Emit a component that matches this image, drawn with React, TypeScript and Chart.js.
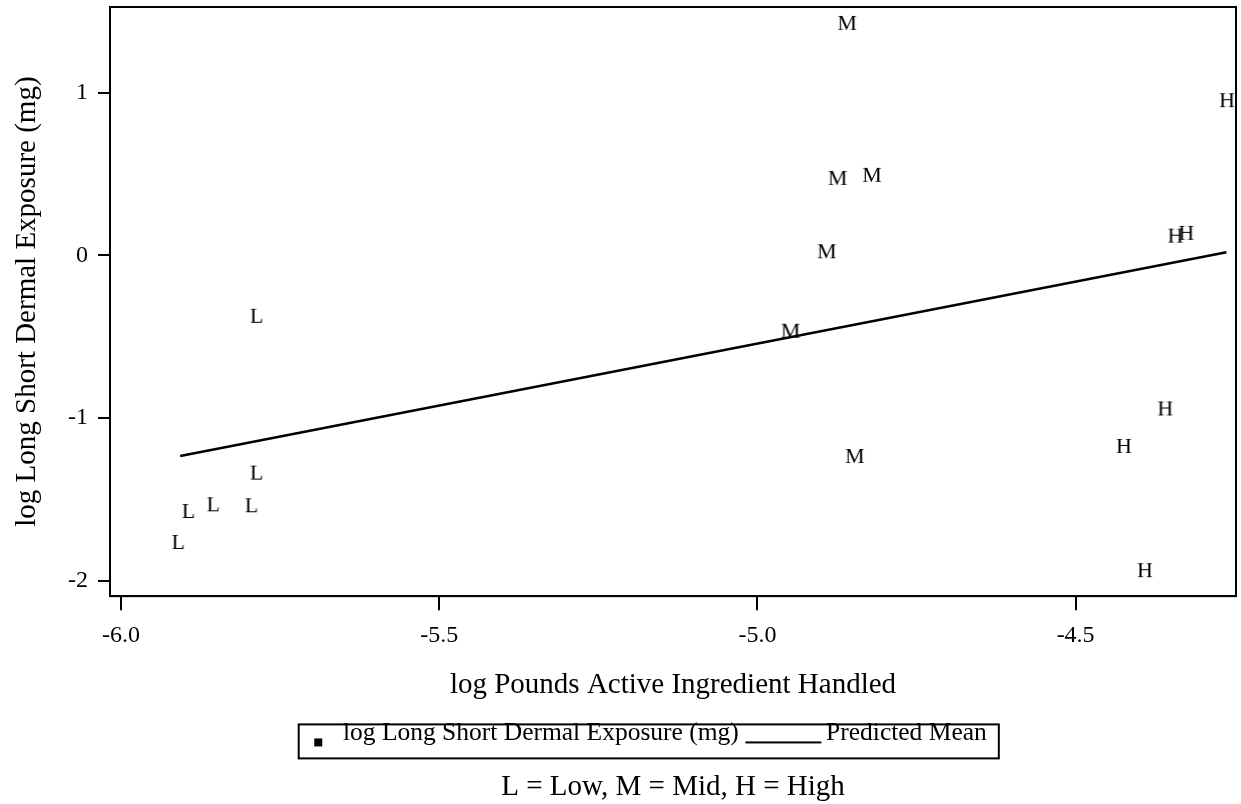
import React, { useEffect, useRef } from 'react';
import { Chart, registerables } from 'chart.js';

Chart.register(...registerables);

const SERIF = '"Liberation Serif", "Times New Roman", Times, serif';

// Data
const lowX = [-5.910, -5.894, -5.855, -5.795, -5.787, -5.787];
const lowY = [-1.762, -1.571, -1.530, -1.536, -1.335, -0.371];
const midX = [-4.859, -4.874, -4.820, -4.891, -4.948, -4.847];
const midY = [1.430, 0.477, 0.496, 0.026, -0.463, -1.233];
const highX = [-4.262, -4.343, -4.326, -4.359, -4.424, -4.391];
const highY = [0.955, 0.122, 0.139, -0.941, -1.171, -1.935];
const fitX = [-5.907, -4.263];
const fitY = [-1.233, 0.020];

const xTicks = [-6.0, -5.5, -5.0, -4.5];
const yTicks = [-2, -1, 0, 1];
const xRange = [-6.0173, -4.248];
const yRange = [-2.095, 1.528];

const xTitle = 'log Pounds Active Ingredient Handled';
const yTitle = 'log Long Short Dermal Exposure (mg)';
const legendLabels = ['log Long Short Dermal Exposure (mg)', 'Predicted Mean'];
const footnote = 'L = Low, M = Mid, H = High';
const groupLetters = ['L', 'M', 'H'];

function letterImage(ch: string): HTMLCanvasElement {
  const c = document.createElement('canvas');
  c.width = 32;
  c.height = 32;
  const ctx = c.getContext('2d')!;
  ctx.font = `22px ${SERIF}`;
  ctx.fillStyle = '#000';
  ctx.textAlign = 'center';
  ctx.textBaseline = 'alphabetic';
  ctx.fillText(ch, 16, 16 + 0.331 * 22);
  return c;
}

function squareImage(): HTMLCanvasElement {
  const c = document.createElement('canvas');
  c.width = 100;
  c.height = 36;
  const ctx = c.getContext('2d')!;
  ctx.fillStyle = '#000';
  // image centre (50,18) sits at the legend text middle
  ctx.fillRect(64, 23, 8, 8);
  return c;
}

function lineImage(): HTMLCanvasElement {
  const c = document.createElement('canvas');
  c.width = 100;
  c.height = 36;
  const ctx = c.getContext('2d')!;
  ctx.fillStyle = '#000';
  ctx.fillRect(12, 26, 76, 2);
  return c;
}

const framePlugin = {
  id: 'frameAndLegendBox',
  afterDraw(chart: any) {
    const ctx = chart.ctx;
    const a = chart.chartArea;
    ctx.save();
    ctx.strokeStyle = '#000';
    ctx.lineWidth = 2;
    ctx.strokeRect(a.left, a.top, a.right - a.left, a.bottom - a.top);
    const hb = chart.legend && chart.legend.legendHitBoxes;
    if (hb && hb.length === 2) {
      const mid = hb[0].top + hb[0].height / 2;
      const left = hb[0].left + 44 - 15.5;
      const right = hb[1].left + hb[1].width + 12;
      ctx.strokeRect(left, mid - 9, right - left, 34);
    }
    ctx.restore();
  },
};

export default function App() {
  const ref = useRef<HTMLCanvasElement | null>(null);

  useEffect(() => {
    if (!ref.current) return;
    Chart.defaults.font.family = SERIF;
    const toPts = (xs: number[], ys: number[]) => xs.map((x, i) => ({ x, y: ys[i] }));
    const letterImgs = groupLetters.map(letterImage);
    const sq = squareImage();
    const ln = lineImage();

    const chart = new Chart(ref.current, {
      type: 'scatter',
      data: {
        datasets: [
          { label: 'L', data: toPts(lowX, lowY), pointStyle: letterImgs[0] as any, pointRadius: 3 },
          { label: 'M', data: toPts(midX, midY), pointStyle: letterImgs[1] as any, pointRadius: 3 },
          { label: 'H', data: toPts(highX, highY), pointStyle: letterImgs[2] as any, pointRadius: 3 },
          {
            label: 'Predicted Mean',
            data: toPts(fitX, fitY),
            showLine: true,
            borderColor: '#000',
            borderWidth: 2.5,
            pointRadius: 0,
            fill: false,
          } as any,
        ],
      },
      options: {
        animation: false,
        responsive: false,
        maintainAspectRatio: false,
        events: [],
        layout: { padding: { top: 7, right: 4, left: 20, bottom: 0 } },
        plugins: {
          tooltip: { enabled: false },
          legend: {
            display: true,
            position: 'bottom',
            labels: {
              usePointStyle: true,
              pointStyleWidth: 60,
              padding: 14.5,
              color: '#000',
              font: { size: 25.5, family: SERIF },
              generateLabels: () => [
                { text: legendLabels[0], pointStyle: sq as any, fillStyle: '#000', strokeStyle: '#000', lineWidth: 0, hidden: false, datasetIndex: 0 },
                { text: legendLabels[1], pointStyle: ln as any, fillStyle: '#000', strokeStyle: '#000', lineWidth: 0, hidden: false, datasetIndex: 3 },
              ],
            },
          },
          subtitle: {
            display: true,
            position: 'bottom',
            fullSize: false,
            text: footnote,
            color: '#000',
            font: { size: 29, family: SERIF, weight: 'normal', lineHeight: 1.15 },
            padding: { top: 14.5, bottom: 0 },
          },
        },
        scales: {
          x: {
            type: 'linear',
            min: xRange[0],
            max: xRange[1],
            afterBuildTicks: (s: any) => {
              s.ticks = xTicks.map((v) => ({ value: v }));
            },
            afterFit: (s: any) => {
              s.height = 110;
              s.paddingLeft = 0;
              s.paddingRight = 0;
              s.paddingTop = 0;
              s.paddingBottom = 0;
            },
            ticks: {
              autoSkip: false,
              maxRotation: 0,
              color: '#000',
              padding: 11,
              font: { size: 24, family: SERIF },
              callback: (v: any) => Number(v).toFixed(1),
            },
            grid: {
              drawOnChartArea: false,
              drawTicks: true,
              tickLength: 14,
              tickWidth: 2,
              lineWidth: 2,
              tickColor: '#000',
              color: '#000',
            },
            border: { display: true, color: '#000', width: 2 },
            title: {
              display: true,
              text: xTitle,
              color: '#000',
              font: { size: 29, family: SERIF },
              padding: { top: 0, bottom: 3.4 },
            },
          },
          y: {
            type: 'linear',
            min: yRange[0],
            max: yRange[1],
            afterBuildTicks: (s: any) => {
              s.ticks = yTicks.map((v) => ({ value: v }));
            },
            afterFit: (s: any) => {
              s.width = 90;
              s.paddingLeft = 0;
              s.paddingRight = 0;
              s.paddingTop = 0;
              s.paddingBottom = 0;
            },
            ticks: {
              color: '#000',
              padding: 10,
              font: { size: 24, family: SERIF },
              callback: (v: any) => String(Math.round(Number(v))),
            },
            grid: {
              drawOnChartArea: false,
              drawTicks: true,
              tickLength: 12,
              tickWidth: 2,
              lineWidth: 2,
              tickColor: '#000',
              color: '#000',
            },
            border: { display: true, color: '#000', width: 2 },
            title: {
              display: true,
              text: yTitle,
              color: '#000',
              font: { size: 29, family: SERIF },
              padding: { top: -10.5, bottom: 0 },
            },
          },
        },
      },
      plugins: [framePlugin],
    });
    return () => chart.destroy();
  }, []);

  return (
    <div style={{ position: 'absolute', left: 0, top: 0, width: 1241, height: 804, background: '#fff' }}>
      <canvas ref={ref} width={1241} height={804} style={{ display: 'block', width: 1241, height: 804 }} />
    </div>
  );
}
